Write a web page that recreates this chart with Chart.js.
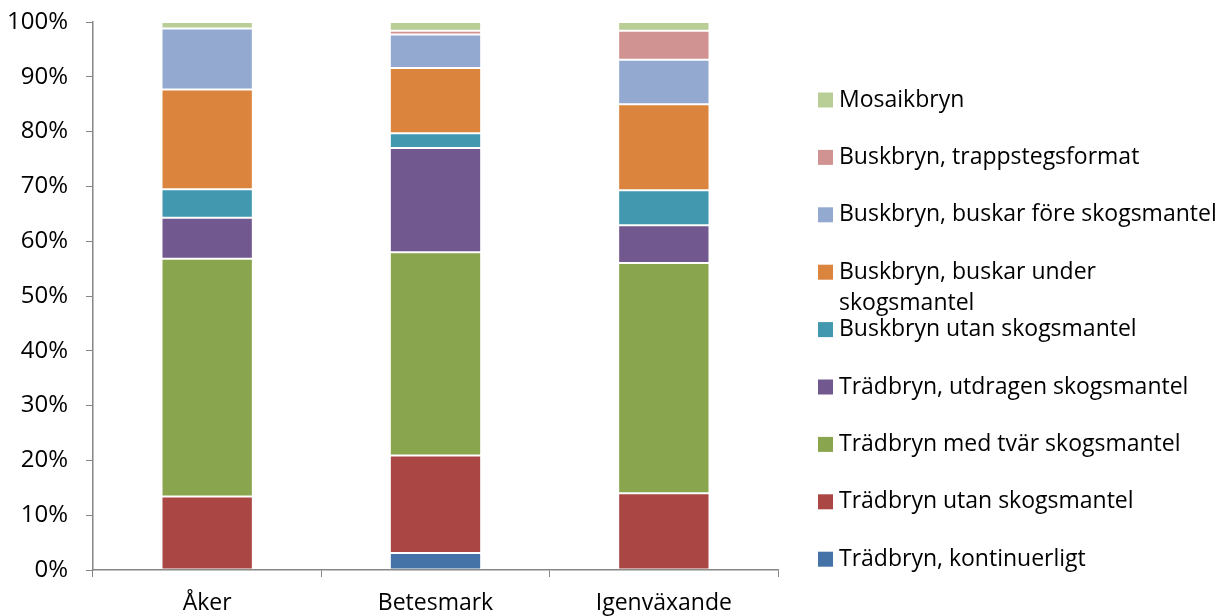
<!DOCTYPE html>
<html>
<head>
<meta charset="utf-8">
<script src="https://cdn.jsdelivr.net/npm/chart.js@4/dist/chart.umd.min.js"></script>
<style>
  html, body { margin: 0; padding: 0; background: #fff; }
  #wrap { width: 1218px; height: 616px; }
</style>
</head>
<body>
<div id="wrap"><canvas id="chart" width="1218" height="616"></canvas></div>
<script>
// ---- data (percent of each category) ----
const categories   = ['Åker', 'Betesmark', 'Igenväxande']
const kontinuerligt = [0, 3.1, 0]
const tradUtan      = [13.4, 17.8, 14.0]
const tradTvar      = [43.4, 37.1, 42.0]
const tradUtdragen  = [7.5, 19.0, 6.9]
const buskUtan      = [5.2, 2.7, 6.4]
const buskUnder     = [18.2, 11.9, 15.7]
const buskFore      = [11.1, 6.1, 8.1]
const trappsteg     = [0, 0.7, 5.3]
const mosaik        = [1.2, 1.6, 1.6]
const yTicks        = [0, 10, 20, 30, 40, 50, 60, 70, 80, 90, 100]

const FONT = "'Open Sans', sans-serif"
const FONT_SIZE = 23

function ds(label, data, color) {
  return {
    label, data,
    backgroundColor: color,
    borderColor: 'rgba(255,255,255,0.18)',
    borderWidth: 1,
    borderSkipped: false,
    categoryPercentage: 1,
    barPercentage: 0.4
  }
}

// legend drawn on the canvas, reversed like Excel's
const sideLegend = {
  id: 'sideLegend',
  afterDraw(chart) {
    const ctx = chart.ctx
    const items = chart.data.datasets.slice().reverse()
    const x0 = 818, box = 15, textX = 839, y0 = 100, step = 57.4, maxW = 1218 - textX
    ctx.save()
    ctx.font = `${FONT_SIZE}px ${FONT}`
    ctx.textBaseline = 'middle'
    items.forEach((d, i) => {
      const cy = y0 + i * step
      ctx.fillStyle = d.backgroundColor
      ctx.fillRect(x0, cy - box / 2, box, box)
      ctx.fillStyle = '#000'
      // wrap words if too wide
      const words = d.label.split(' ')
      const lines = []
      let cur = ''
      words.forEach(w => {
        const t = cur ? cur + ' ' + w : w
        if (ctx.measureText(t).width > maxW && cur) { lines.push(cur); cur = w }
        else cur = t
      })
      lines.push(cur)
      lines.forEach((l, j) => ctx.fillText(l, textX, cy + j * 31))
    })
    ctx.restore()
  }
}

new Chart(document.getElementById('chart').getContext('2d'), {
  type: 'bar',
  data: {
    labels: categories,
    datasets: [
      ds('Trädbryn, kontinuerligt', kontinuerligt, '#4572A7'),
      ds('Trädbryn utan skogsmantel', tradUtan, '#AA4643'),
      ds('Trädbryn med tvär skogsmantel', tradTvar, '#89A54E'),
      ds('Trädbryn, utdragen skogsmantel', tradUtdragen, '#71588F'),
      ds('Buskbryn utan skogsmantel', buskUtan, '#4198AF'),
      ds('Buskbryn, buskar under skogsmantel', buskUnder, '#DB843D'),
      ds('Buskbryn, buskar före skogsmantel', buskFore, '#93A9CF'),
      ds('Buskbryn, trappstegsformat', trappsteg, '#D19392'),
      ds('Mosaikbryn', mosaik, '#B9CD96')
    ]
  },
  options: {
    responsive: false,
    animation: false,
    layout: { padding: { top: 22, right: 440, left: 0, bottom: 0 } },
    plugins: {
      legend: { display: false },
      tooltip: { enabled: false }
    },
    scales: {
      x: {
        stacked: true,
        grid: { drawOnChartArea: false, tickLength: 7, color: '#868686', offset: true },
        border: { color: '#868686', width: 1.5 },
        ticks: { color: '#000', font: { family: FONT, size: FONT_SIZE }, padding: 13, maxRotation: 0 },
        afterFit: s => { s.height = 46 }
      },
      y: {
        stacked: true,
        min: 0, max: 100,
        afterBuildTicks: s => { s.ticks = yTicks.map(v => ({ value: v })) },
        grid: { drawOnChartArea: false, tickLength: 7, color: '#868686' },
        border: { color: '#868686', width: 1.5 },
        ticks: {
          color: '#000', font: { family: FONT, size: 24 }, padding: 18,
          callback: v => v + '%'
        },
        afterFit: s => { s.width = 93; s.paddingTop = 0; s.paddingBottom = 0 }
      }
    }
  },
  plugins: [sideLegend]
})
</script>
</body>
</html>
